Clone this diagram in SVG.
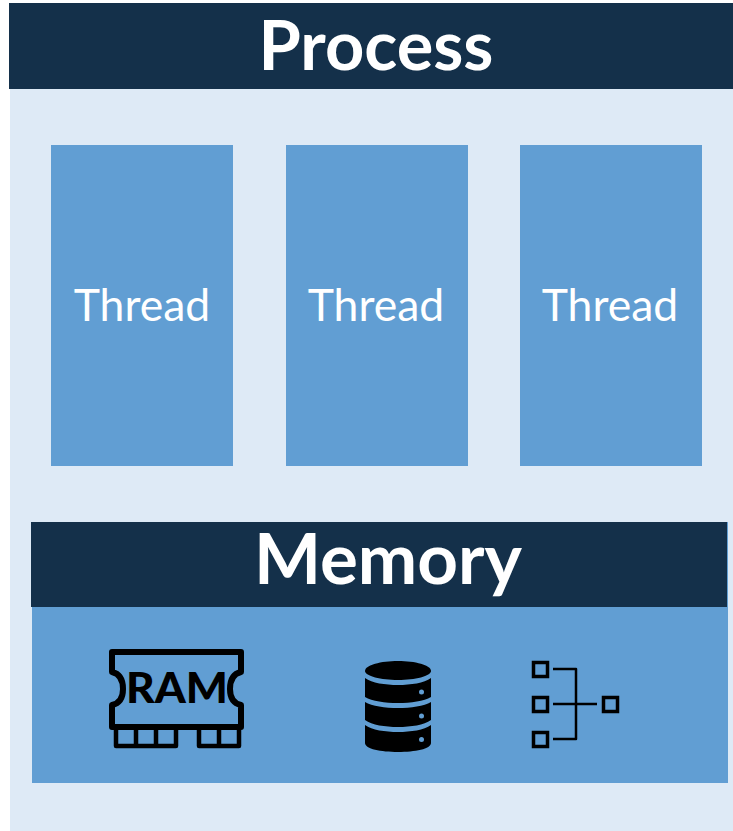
<svg xmlns="http://www.w3.org/2000/svg" width="733" height="831" viewBox="0 0 733 831">
<style>
.dark{fill:#14304a}
.mid{fill:#619ed3}
.h{font-family:"Lato","Open Sans",sans-serif;font-weight:700;fill:#fff;text-anchor:middle}
.t{font-family:"Lato","Open Sans",sans-serif;font-size:44.500px;fill:#fff;text-anchor:middle}
.ln{fill:none;stroke:#000;stroke-linejoin:round}
.sq{fill:none;stroke:#000;stroke-width:3.500}
</style>
<rect width="733" height="831" fill="#fff"/>
<g id="process">
<rect x="10" y="89" width="723" height="742" fill="#deeaf6"/>
<rect class="dark" x="9" y="3" width="724" height="86"/>
<text class="h" x="376" y="70" font-size="68.500">Process</text>
</g>
<g id="thread-1"><rect class="mid" x="51" y="145" width="182" height="321"/><text class="t" x="142" y="321">Thread</text></g>
<g id="thread-2"><rect class="mid" x="286" y="145" width="182" height="321"/><text class="t" x="376" y="321">Thread</text></g>
<g id="thread-3"><rect class="mid" x="520" y="145" width="182" height="321"/><text class="t" x="610" y="321">Thread</text></g>
<g id="memory">
<rect class="mid" x="32" y="522" width="696" height="261"/>
<rect class="dark" x="31" y="522" width="696" height="85"/>
<text class="h" x="388" y="584" font-size="71">Memory</text>
</g>
<g id="ram-icon">
<path class="ln" stroke-width="6" d="M112 652H241V672C232 674 230 682 230 689C230 696 232 703 241 705V727H112V705C121 703 123 696 123 689C123 682 121 674 112 672Z"/>
<path class="ln" stroke-width="4.500" d="M116 729V746H176V729M136 729V746M156 729V746M199 729V746H239V729M219 729V746"/>
<text x="177" y="703" font-family="Lato,'Open Sans',sans-serif" font-weight="900" font-size="42" text-anchor="middle" fill="#000" textLength="102" lengthAdjust="spacingAndGlyphs">RAM</text>
</g>
<g id="database-icon">
<path d="M365 671C365 665 381 661 398 661C415 661 431 665 431 671C431 676 415 680 398 680C381 680 365 676 365 671Z"/>
<path d="M365 678C372 683 385 685 398 685C411 685 424 683 431 678V697C424 701 411 703 398 703C385 703 372 701 365 697Z"/>
<path d="M365 702C372 706 385 708 398 708C411 708 424 706 431 702V720C424 725 411 727 398 727C385 727 372 725 365 720Z"/>
<path d="M365 725C372 730 385 732 398 732C411 732 424 730 431 725V743C431 749 415 752 398 752C381 752 365 749 365 743Z"/>
<g class="mid"><circle cx="421.500" cy="692" r="2.500"/><circle cx="421.500" cy="716" r="2.500"/><circle cx="421.500" cy="739.500" r="2.500"/></g>
</g>
<g id="network-icon">
<rect class="sq" x="533.500" y="662.500" width="14" height="14"/>
<rect class="sq" x="533.500" y="697.500" width="14" height="14"/>
<rect class="sq" x="533.500" y="732.500" width="14" height="14"/>
<rect class="sq" x="603.500" y="697.500" width="14" height="14"/>
</g>
<g id="connectors">
<path class="ln" stroke-width="2.500" d="M553 669H576V739H553M553 704H597"/>
</g>
</svg>
